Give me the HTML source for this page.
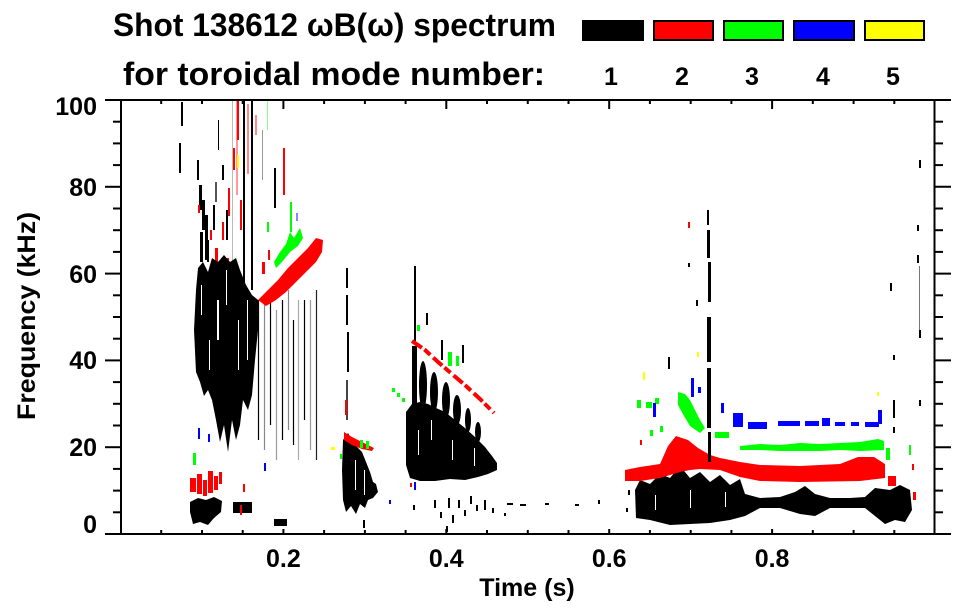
<!DOCTYPE html>
<html><head><meta charset="utf-8"><style>
html,body{margin:0;padding:0;background:#fff;}
svg{display:block;}
text{font-family:"Liberation Sans",Arial,sans-serif;font-weight:bold;fill:#000;}
</style></head><body>
<svg width="963" height="615" viewBox="0 0 963 615" xmlns="http://www.w3.org/2000/svg">
<rect width="963" height="615" fill="#fff"/>

<!-- Title & legend -->
<text x="113" y="36" font-size="32" textLength="443" lengthAdjust="spacingAndGlyphs">Shot 138612 ωB(ω) spectrum</text>
<text x="123" y="85" font-size="32" textLength="422" lengthAdjust="spacingAndGlyphs">for toroidal mode number:</text>
<rect x="582" y="20" width="62" height="21" fill="#000"/>
<rect x="654" y="21" width="59" height="19" fill="#f00" stroke="#000" stroke-width="2"/>
<rect x="724" y="21" width="59" height="19" fill="#0f0" stroke="#000" stroke-width="2"/>
<rect x="794" y="21" width="60" height="19" fill="#00f" stroke="#000" stroke-width="2"/>
<rect x="865" y="21" width="59" height="19" fill="#ff0" stroke="#000" stroke-width="2"/>
<g font-size="25" text-anchor="middle">
<text x="611" y="85">1</text><text x="682" y="85">2</text><text x="752" y="85">3</text><text x="823" y="85">4</text><text x="893" y="85">5</text>
</g>

<!-- DATA -->
<g>
<!-- early black -->
<rect x="181" y="102" width="2" height="24" fill="#000"/>
<rect x="179" y="143" width="2" height="30" fill="#000"/>

<!-- top region streaks -->
<rect x="232" y="100" width="1" height="200" fill="#bbb"/>
<rect x="236" y="100" width="2" height="95" fill="#ff9999"/>
<rect x="237" y="100" width="2" height="40" fill="#f00"/>
<rect x="247" y="104" width="2" height="70" fill="#ff8888"/>
<rect x="243" y="100" width="2" height="185" fill="#000"/>
<rect x="251" y="100" width="2" height="190" fill="#000"/>
<rect x="197" y="160" width="2" height="20" fill="#000"/>
<rect x="199" y="185" width="3" height="25" fill="#000"/>
<rect x="202" y="200" width="3" height="30" fill="#000"/>
<rect x="205" y="215" width="3" height="45" fill="#000"/>
<rect x="200" y="232" width="3" height="30" fill="#000"/>
<rect x="207" y="240" width="2" height="22" fill="#000"/>
<rect x="218" y="120" width="1" height="30" fill="#000"/>
<rect x="222" y="165" width="2" height="15" fill="#000"/>
<rect x="215" y="182" width="2" height="20" fill="#555"/>
<rect x="198" y="205" width="2" height="8" fill="#f00"/>
<rect x="210" y="230" width="2" height="10" fill="#f00"/>
<rect x="215" y="248" width="3" height="14" fill="#f00"/>
<rect x="222" y="222" width="2" height="18" fill="#f00"/>
<rect x="228" y="188" width="2" height="28" fill="#f00"/>
<rect x="233" y="148" width="2" height="22" fill="#f00"/>
<rect x="226" y="258" width="3" height="12" fill="#f00"/>
<rect x="240" y="200" width="2" height="30" fill="#f00"/>
<rect x="255" y="115" width="2" height="20" fill="#ff8888"/>
<rect x="283" y="148" width="2" height="47" fill="#f00"/>
<rect x="274" y="168" width="2" height="40" fill="#000"/>
<rect x="262" y="130" width="1" height="50" fill="#999"/>
<rect x="267" y="100" width="1" height="30" fill="#88ff88"/>
<rect x="237" y="155" width="2" height="13" fill="#ff0"/>
<rect x="226" y="210" width="2" height="30" fill="#000"/>
<rect x="213" y="205" width="2" height="25" fill="#000"/>

<!-- main blob -->
<polygon fill="#000" points="196,290 198,268 203,262 208,272 212,258 218,262 224,255 230,262 236,258 240,270 246,285 252,295 258,300 258,330 255,360 252,395 248,410 243,400 240,425 236,440 232,420 228,452 224,425 220,442 216,420 212,400 208,390 204,396 200,382 196,372 194,330"/>
<g fill="#fff">
<rect x="201" y="285" width="1" height="30"/><rect x="217" y="300" width="2" height="40"/>
<rect x="226" y="270" width="1" height="35"/><rect x="238" y="320" width="1" height="50"/>
<rect x="247" y="300" width="1" height="60"/><rect x="209" y="340" width="1" height="30"/>
</g>

<!-- thin vertical lines -->
<g stroke-width="1.2">
<line x1="258.5" y1="300" x2="258.5" y2="440" stroke="#000"/>
<line x1="264.5" y1="300" x2="264.5" y2="450" stroke="#888"/>
<line x1="270.5" y1="300" x2="270.5" y2="425" stroke="#000"/>
<line x1="276.5" y1="310" x2="276.5" y2="460" stroke="#999"/>
<line x1="282.5" y1="300" x2="282.5" y2="440" stroke="#000"/>
<line x1="288.5" y1="290" x2="288.5" y2="430" stroke="#888"/>
<line x1="293.5" y1="320" x2="293.5" y2="445" stroke="#000"/>
<line x1="298.5" y1="300" x2="298.5" y2="460" stroke="#aaa"/>
<line x1="304.5" y1="300" x2="304.5" y2="420" stroke="#000"/>
<line x1="310.5" y1="300" x2="310.5" y2="450" stroke="#999"/>
<line x1="316.5" y1="290" x2="316.5" y2="460" stroke="#222"/>
</g>

<!-- 60 kHz red/green -->
<polygon fill="#f00" points="258,300 268,290 278,280 288,268 298,258 308,248 316,238 323,240 322,252 316,262 306,272 296,282 286,292 276,300 266,306"/>
<rect x="262" y="262" width="3" height="12" fill="#f00"/>
<rect x="268" y="250" width="2" height="10" fill="#f00"/>
<polygon fill="#0f0" points="274,262 280,252 286,244 290,232 294,238 300,228 303,238 298,246 290,252 282,262 276,268"/>
<rect x="290" y="202" width="2" height="30" fill="#0f0"/>
<rect x="267" y="222" width="2" height="10" fill="#0f0"/>
<rect x="296" y="213" width="2" height="8" fill="#88f"/>

<!-- bottom-left early -->
<g fill="#f00">
<rect x="190" y="478" width="6" height="14"/><rect x="197" y="474" width="5" height="20"/>
<rect x="203" y="480" width="4" height="16"/><rect x="208" y="471" width="5" height="22"/>
<rect x="214" y="476" width="4" height="14"/><rect x="219" y="472" width="3" height="12"/>
</g>
<polygon fill="#000" points="190,502 198,498 206,500 214,497 222,501 221,512 214,518 208,525 200,522 193,524 190,512"/>
<rect x="233" y="502" width="19" height="11" fill="#000"/>
<rect x="274" y="519" width="13" height="7" fill="#000"/>
<rect x="193" y="453" width="3" height="12" fill="#0f0"/>
<rect x="198" y="428" width="2" height="11" fill="#00f"/>
<rect x="208" y="434" width="2" height="8" fill="#00f"/>
<rect x="264" y="463" width="2" height="8" fill="#00f"/>
<rect x="243" y="484" width="2" height="8" fill="#f00"/>
<rect x="240" y="505" width="2" height="10" fill="#f00"/>

<!-- t~0.28 -->
<rect x="346" y="268" width="2" height="20" fill="#000"/>
<rect x="346" y="295" width="2" height="30" fill="#000"/>
<rect x="347" y="332" width="2" height="40" fill="#000"/>
<rect x="346" y="380" width="2" height="40" fill="#444"/>
<polygon fill="#000" points="343,440 348,433 353,442 358,448 362,452 366,462 370,472 373,482 376,484 378,492 373,498 368,500 365,508 360,504 356,514 351,506 346,512 343,500 342,470"/>
<g fill="#fff"><rect x="355" y="460" width="1" height="30"/><rect x="364" y="470" width="1" height="25"/></g>
<polygon fill="#f00" points="344,432 352,437 360,441 368,445 374,448 372,451 362,449 352,445 344,440"/>
<rect x="345" y="400" width="2" height="15" fill="#f00"/>
<rect x="360" y="440" width="3" height="8" fill="#0f0"/>
<rect x="366" y="441" width="3" height="8" fill="#0f0"/>
<rect x="340" y="454" width="2" height="5" fill="#0f0"/>
<rect x="331" y="447" width="4" height="3" fill="#ff0"/>
<rect x="389" y="500" width="2" height="4" fill="#00f"/>

<!-- t~0.4 -->
<rect x="414" y="266" width="2" height="75" fill="#000"/>
<rect x="426" y="313" width="2" height="12" fill="#000"/>
<rect x="441" y="340" width="2" height="20" fill="#000"/>
<rect x="462" y="345" width="2" height="18" fill="#000"/>
<rect x="412" y="346" width="5" height="60" fill="#000"/>
<g fill="#000">
<ellipse cx="423" cy="385" rx="4" ry="24"/>
<ellipse cx="434" cy="392" rx="4" ry="20"/>
<ellipse cx="446" cy="400" rx="4" ry="18"/>
<ellipse cx="457" cy="410" rx="4" ry="15"/>
<ellipse cx="468" cy="420" rx="3" ry="12"/>
<ellipse cx="478" cy="432" rx="3" ry="10"/>
</g>
<polygon fill="#000" points="406,412 412,404 420,402 428,404 436,408 445,412 455,420 465,428 475,437 485,447 492,456 497,463 497,470 488,474 478,477 465,480 450,479 435,481 420,481 410,478 406,465"/>
<g fill="#fff"><rect x="418" y="430" width="1" height="25"/><rect x="431" y="420" width="1" height="20"/><rect x="452" y="440" width="1" height="20"/><rect x="474" y="448" width="1" height="18"/></g>
<polyline fill="none" stroke="#f00" stroke-width="4" stroke-dasharray="12 3 8 4" points="412,341 425,350 438,362 452,374 466,386 480,399 494,413"/>
<rect x="448" y="352" width="4" height="14" fill="#0f0"/>
<rect x="456" y="356" width="3" height="10" fill="#0f0"/>
<rect x="392" y="388" width="3" height="4" fill="#0f0"/>
<rect x="397" y="393" width="3" height="4" fill="#0f0"/>
<rect x="402" y="398" width="3" height="4" fill="#0f0"/>
<rect x="417" y="325" width="3" height="6" fill="#0f0"/>
<rect x="414" y="482" width="2" height="8" fill="#00f"/>
<rect x="410" y="483" width="2" height="4" fill="#f00"/>

<!-- scattered bottom -->
<g fill="#000">
<rect x="413" y="505" width="2" height="5"/><rect x="434" y="500" width="2" height="8"/><rect x="440" y="512" width="2" height="6"/>
<rect x="448" y="498" width="2" height="10"/><rect x="452" y="515" width="2" height="8"/><rect x="458" y="500" width="2" height="8"/>
<rect x="464" y="510" width="2" height="6"/><rect x="470" y="496" width="2" height="8"/><rect x="476" y="505" width="2" height="6"/>
<rect x="484" y="500" width="2" height="10"/><rect x="492" y="508" width="2" height="5"/><rect x="446" y="526" width="2" height="6"/>
<rect x="507" y="503" width="6" height="2"/><rect x="520" y="504" width="6" height="2"/><rect x="545" y="503" width="4" height="2"/>
<rect x="575" y="504" width="4" height="2"/><rect x="598" y="500" width="2" height="4"/><rect x="504" y="513" width="2" height="3"/>
<rect x="363" y="520" width="2" height="8"/><rect x="628" y="490" width="2" height="5"/><rect x="626" y="508" width="2" height="4"/>
</g>

<!-- t 0.63+ bands -->
<polygon fill="#000" points="635,490 640,480 650,484 660,474 670,478 680,466 690,478 700,472 710,482 720,475 730,485 740,479 745,494 760,498 780,497 795,492 805,486 815,494 830,498 850,498 865,497 875,488 890,490 900,485 910,490 912,510 905,522 895,520 885,524 875,516 865,508 850,508 830,508 815,516 800,514 780,508 760,508 745,516 730,520 710,523 690,524 670,525 650,520 636,518"/>
<g fill="#fff"><rect x="655" y="495" width="1" height="15"/><rect x="690" y="490" width="1" height="18"/><rect x="725" y="492" width="1" height="15"/></g>
<polygon fill="#f00" points="625,470 640,467 660,464 668,446 676,436 688,440 698,448 710,455 720,458 740,462 760,465 800,466 840,464 858,457 874,457 885,464 885,478 860,481 800,482 760,481 740,477 720,470 700,469 690,470 680,472 660,478 640,481 625,481"/>
<rect x="888" y="476" width="8" height="10" fill="#f00"/>
<rect x="912" y="464" width="2" height="6" fill="#f00"/>
<rect x="913" y="492" width="3" height="8" fill="#f00"/>
<rect x="640" y="440" width="2" height="5" fill="#f00"/>
<rect x="688" y="222" width="2" height="6" fill="#f00"/>
<polygon fill="#0f0" points="740,446 760,444 780,445 800,443 820,444 840,443 860,442 878,439 884,441 884,450 860,451 840,450 820,451 800,451 780,451 760,450 740,450"/>
<polygon fill="#0f0" points="678,392 685,394 690,400 695,410 700,420 705,428 700,433 690,426 684,416 678,405"/>
<rect x="715" y="432" width="14" height="6" fill="#0f0"/>
<rect x="637" y="400" width="4" height="8" fill="#0f0"/>
<rect x="646" y="402" width="6" height="6" fill="#0f0"/>
<rect x="655" y="398" width="4" height="6" fill="#0f0"/>
<rect x="650" y="430" width="3" height="6" fill="#0f0"/>
<rect x="660" y="426" width="3" height="6" fill="#0f0"/>
<rect x="886" y="448" width="4" height="12" fill="#0f0"/>
<rect x="909" y="445" width="2" height="10" fill="#0f0"/>
<g fill="#00f">
<rect x="691" y="378" width="3" height="19"/><rect x="698" y="387" width="3" height="6"/>
<rect x="653" y="403" width="3" height="14"/><rect x="721" y="403" width="3" height="10"/>
<rect x="733" y="413" width="10" height="14"/><rect x="748" y="422" width="19" height="7"/>
<rect x="778" y="421" width="22" height="5"/><rect x="805" y="421" width="14" height="5"/>
<rect x="822" y="418" width="8" height="8"/><rect x="835" y="422" width="10" height="4"/>
<rect x="851" y="422" width="8" height="4"/><rect x="865" y="422" width="14" height="5"/>
<rect x="878" y="410" width="4" height="14"/>
</g>
<rect x="643" y="372" width="2" height="8" fill="#ff0"/>
<rect x="697" y="352" width="2" height="5" fill="#ff0"/>
<rect x="877" y="392" width="2" height="4" fill="#ff0"/>

<!-- spike t 0.72 -->
<g fill="#000">
<rect x="707" y="210" width="2" height="15"/><rect x="707" y="230" width="3" height="28"/>
<rect x="708" y="262" width="3" height="40"/><rect x="707" y="317" width="4" height="45"/>
<rect x="707" y="368" width="4" height="60"/><rect x="708" y="432" width="3" height="30"/>
<rect x="668" y="357" width="2" height="12"/><rect x="688" y="263" width="2" height="4"/>
<rect x="696" y="300" width="2" height="6"/>
</g>

<!-- right side -->
<g fill="#000">
<rect x="919" y="160" width="2" height="8"/><rect x="917" y="225" width="2" height="6"/>
<rect x="917" y="255" width="2" height="8"/><rect x="919" y="266" width="1" height="64" fill="#777"/>
<rect x="919" y="330" width="2" height="8"/><rect x="893" y="400" width="2" height="18"/>
<rect x="893" y="427" width="2" height="6"/><rect x="890" y="283" width="2" height="8"/>
<rect x="919" y="400" width="2" height="6"/><rect x="893" y="355" width="2" height="5"/>
</g>
</g>

<!-- AXES -->
<g stroke="#000" stroke-width="2" fill="none">
<line x1="105" y1="100" x2="951" y2="100"/>
<line x1="105" y1="534" x2="951" y2="534"/>
<line x1="121" y1="99" x2="121" y2="535"/>
<line x1="934.5" y1="99" x2="934.5" y2="535"/>
</g>
<g stroke="#000" stroke-width="2">
<line x1="105" y1="447.2" x2="121" y2="447.2"/><line x1="105" y1="360.4" x2="121" y2="360.4"/>
<line x1="105" y1="273.6" x2="121" y2="273.6"/><line x1="105" y1="186.8" x2="121" y2="186.8"/>
<line x1="934" y1="447.2" x2="951" y2="447.2"/><line x1="934" y1="360.4" x2="951" y2="360.4"/>
<line x1="934" y1="273.6" x2="951" y2="273.6"/><line x1="934" y1="186.8" x2="951" y2="186.8"/>
<line x1="113" y1="512.3" x2="121" y2="512.3"/><line x1="113" y1="490.6" x2="121" y2="490.6"/><line x1="113" y1="468.9" x2="121" y2="468.9"/>
<line x1="113" y1="425.5" x2="121" y2="425.5"/><line x1="113" y1="403.8" x2="121" y2="403.8"/><line x1="113" y1="382.1" x2="121" y2="382.1"/>
<line x1="113" y1="338.7" x2="121" y2="338.7"/><line x1="113" y1="317" x2="121" y2="317"/><line x1="113" y1="295.3" x2="121" y2="295.3"/>
<line x1="113" y1="251.9" x2="121" y2="251.9"/><line x1="113" y1="230.2" x2="121" y2="230.2"/><line x1="113" y1="208.5" x2="121" y2="208.5"/>
<line x1="113" y1="165.1" x2="121" y2="165.1"/><line x1="113" y1="143.4" x2="121" y2="143.4"/><line x1="113" y1="121.7" x2="121" y2="121.7"/>
<line x1="934" y1="512.3" x2="943" y2="512.3"/><line x1="934" y1="490.6" x2="943" y2="490.6"/><line x1="934" y1="468.9" x2="943" y2="468.9"/>
<line x1="934" y1="425.5" x2="943" y2="425.5"/><line x1="934" y1="403.8" x2="943" y2="403.8"/><line x1="934" y1="382.1" x2="943" y2="382.1"/>
<line x1="934" y1="338.7" x2="943" y2="338.7"/><line x1="934" y1="317" x2="943" y2="317"/><line x1="934" y1="295.3" x2="943" y2="295.3"/>
<line x1="934" y1="251.9" x2="943" y2="251.9"/><line x1="934" y1="230.2" x2="943" y2="230.2"/><line x1="934" y1="208.5" x2="943" y2="208.5"/>
<line x1="934" y1="165.1" x2="943" y2="165.1"/><line x1="934" y1="143.4" x2="943" y2="143.4"/><line x1="934" y1="121.7" x2="943" y2="121.7"/>
<line x1="283.4" y1="100" x2="283.4" y2="109"/><line x1="446.3" y1="100" x2="446.3" y2="109"/>
<line x1="609.2" y1="100" x2="609.2" y2="109"/><line x1="772.1" y1="100" x2="772.1" y2="109"/>
<line x1="161.2" y1="100" x2="161.2" y2="104"/><line x1="202" y1="100" x2="202" y2="104"/><line x1="242.7" y1="100" x2="242.7" y2="104"/>
<line x1="324.1" y1="100" x2="324.1" y2="104"/><line x1="364.9" y1="100" x2="364.9" y2="104"/><line x1="405.6" y1="100" x2="405.6" y2="104"/>
<line x1="487" y1="100" x2="487" y2="104"/><line x1="527.8" y1="100" x2="527.8" y2="104"/><line x1="568.5" y1="100" x2="568.5" y2="104"/>
<line x1="649.9" y1="100" x2="649.9" y2="104"/><line x1="690.7" y1="100" x2="690.7" y2="104"/><line x1="731.4" y1="100" x2="731.4" y2="104"/>
<line x1="812.8" y1="100" x2="812.8" y2="104"/><line x1="853.6" y1="100" x2="853.6" y2="104"/><line x1="894.3" y1="100" x2="894.3" y2="104"/>
<line x1="283.4" y1="534" x2="283.4" y2="529"/><line x1="446.3" y1="534" x2="446.3" y2="529"/>
<line x1="609.2" y1="534" x2="609.2" y2="529"/><line x1="772.1" y1="534" x2="772.1" y2="529"/>
<line x1="161.2" y1="534" x2="161.2" y2="530"/><line x1="202" y1="534" x2="202" y2="530"/><line x1="242.7" y1="534" x2="242.7" y2="530"/>
<line x1="324.1" y1="534" x2="324.1" y2="530"/><line x1="364.9" y1="534" x2="364.9" y2="530"/><line x1="405.6" y1="534" x2="405.6" y2="530"/>
<line x1="487" y1="534" x2="487" y2="530"/><line x1="527.8" y1="534" x2="527.8" y2="530"/><line x1="568.5" y1="534" x2="568.5" y2="530"/>
<line x1="649.9" y1="534" x2="649.9" y2="530"/><line x1="690.7" y1="534" x2="690.7" y2="530"/><line x1="731.4" y1="534" x2="731.4" y2="530"/>
<line x1="812.8" y1="534" x2="812.8" y2="530"/><line x1="853.6" y1="534" x2="853.6" y2="530"/><line x1="894.3" y1="534" x2="894.3" y2="530"/>
</g>

<!-- tick labels -->
<g font-size="25" text-anchor="end">
<text x="97" y="115">100</text>
<text x="97" y="196">80</text>
<text x="97" y="283">60</text>
<text x="97" y="369">40</text>
<text x="97" y="456">20</text>
<text x="97" y="533">0</text>
</g>
<g font-size="25" text-anchor="middle">
<text x="283.4" y="567">0.2</text>
<text x="446.3" y="567">0.4</text>
<text x="609.2" y="567">0.6</text>
<text x="772.1" y="567">0.8</text>
<text x="527" y="596">Time (s)</text>
</g>
<text transform="translate(35,316) rotate(-90)" font-size="25" text-anchor="middle" textLength="208" lengthAdjust="spacingAndGlyphs">Frequency (kHz)</text>
</svg>
</body></html>
